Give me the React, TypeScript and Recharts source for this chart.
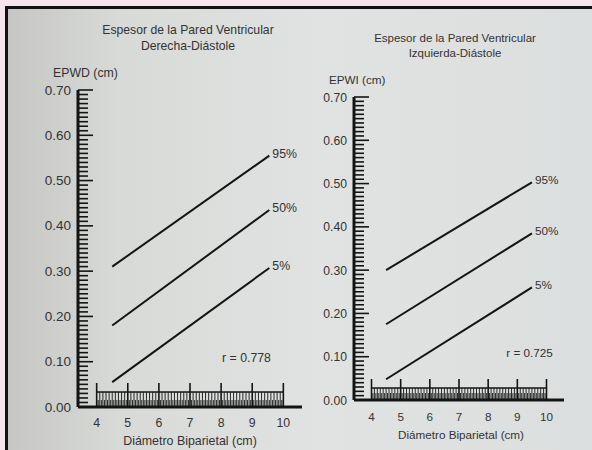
import React from 'react';
import { LineChart, Line, XAxis, YAxis, ReferenceLine, ReferenceDot, LabelList } from 'recharts';

// ---- data ----
const leftX = [4.5, 9.55];
const left95 = [0.31, 0.555];
const left50 = [0.18, 0.435];
const left5 = [0.055, 0.307];

const rightX = [4.5, 9.5];
const right95 = [0.3, 0.503];
const right50 = [0.175, 0.385];
const right5 = [0.048, 0.26];

const seriesKeys = ['p95', 'p50', 'p5'];
const seriesNames = ['95%', '50%', '5%'];

const leftTitle = ['Espesor de la Pared Ventricular', 'Derecha-Diástole'];
const rightTitle = ['Espesor de la Pared Ventricular', 'Izquierda-Diástole'];
const leftYLabel = 'EPWD (cm)';
const rightYLabel = 'EPWI (cm)';
const xLabel = 'Diámetro Biparietal (cm)';
const leftR = 'r = 0.778';
const rightR = 'r = 0.725';

const xMin = 4;
const xMax = 10;
const yMax = 0.7;

// ruler ticks (every 0.05 on x, every 0.01 on y)
const xRulerTicks: number[] = [];
for (let i = xMin * 20; i <= xMax * 20; i++) xRulerTicks.push(i / 20);
const yRulerTicks: number[] = [];
for (let i = 0; i <= Math.round(yMax * 100); i++) yRulerTicks.push(i / 100);

const buildRows = (xs: number[], a: number[], b: number[], c: number[]) =>
  xs.map((x, i) => ({ x, p95: a[i], p50: b[i], p5: c[i] }));

const leftRows = buildRows(leftX, left95, left50, left5);
const rightRows = buildRows(rightX, right95, right50, right5);

const INK = '#141414';
const TEXT = '#333';
const FONT = '"Liberation Sans", Arial, sans-serif';

const XRulerTick = (props: any) => {
  const { x, y, payload, majorLen, minorLen, fs, labelDy } = props;
  const v = payload.value;
  const twentieth = Math.round(v * 20);
  const isMajor = twentieth % 20 === 0;
  const isTenth = twentieth % 2 === 0;
  const len = isMajor ? majorLen : isTenth ? minorLen : 7;
  return (
    <g>
      <line x1={x} x2={x} y1={y} y2={y - len} stroke={INK} strokeWidth={isMajor ? 1.6 : 0.9} />
      {isMajor && (
        <text x={x} y={y + labelDy} textAnchor="middle" fontSize={fs} fill={TEXT} fontFamily={FONT}>
          {Math.round(v)}
        </text>
      )}
    </g>
  );
};

const YRulerTick = (props: any) => {
  const { x, y, payload, fs } = props;
  const v = payload.value;
  const hund = Math.round(v * 100);
  const isMajor = hund % 10 === 0;
  return (
    <g>
      <line x1={x} x2={x + (isMajor ? 15 : 10)} y1={y} y2={y} stroke={INK} strokeWidth={1.6} />
      {isMajor && (
        <text x={x - 7} y={y} dy={4.5} textAnchor="end" fontSize={fs} fill={TEXT} fontFamily={FONT}>
          {v.toFixed(2)}
        </text>
      )}
    </g>
  );
};

const Panel = (props: any) => {
  const { rows, width, top, yAxisWidth, xAxisHeight, majorLen, minorLen, barY, fs, yfs, labelDy, rText, rX, rY } = props;
  const last = rows.length - 1;
  return (
    <LineChart width={width} height={450} data={rows} margin={{ top, right: 0, bottom: 0, left: 0 }}>
      <XAxis
        dataKey="x"
        type="number"
        domain={[3.4, 10.6]}
        ticks={xRulerTicks}
        interval={0}
        tickSize={0}
        tickMargin={0}
        tickLine={false}
        axisLine={{ stroke: INK, strokeWidth: 3 }}
        height={xAxisHeight}
        allowDataOverflow
        tick={(p: any) => (
          <XRulerTick {...p} majorLen={majorLen} minorLen={minorLen} fs={fs} labelDy={labelDy} />
        )}
      />
      <YAxis
        type="number"
        domain={[0, yMax]}
        ticks={yRulerTicks}
        interval={0}
        tickSize={0}
        tickMargin={0}
        tickLine={false}
        axisLine={{ stroke: INK, strokeWidth: 3 }}
        width={yAxisWidth}
        tick={(p: any) => <YRulerTick {...p} fs={yfs} />}
      />
      <ReferenceLine
        segment={[
          { x: xMin, y: barY },
          { x: xMax, y: barY },
        ]}
        stroke={INK}
        strokeWidth={1.5}
      />
      {seriesKeys.map((k, si) => (
        <Line
          key={k}
          type="linear"
          dataKey={k}
          stroke={INK}
          strokeWidth={2}
          dot={false}
          isAnimationActive={false}
        >
          <LabelList
            dataKey={k}
            content={(lp: any) =>
              lp.index === last ? (
                <text
                  x={lp.x + 3}
                  y={lp.y - 2}
                  dy={4}
                  fontSize={fs}
                  fill={TEXT}
                  fontFamily={FONT}
                >
                  {seriesNames[si]}
                </text>
              ) : null
            }
          />
        </Line>
      ))}
      <ReferenceDot
        x={rX}
        y={rY}
        r={0}
        fill="none"
        stroke="none"
        label={{ value: rText, position: 'right', offset: 0, fontSize: fs, fill: TEXT, fontFamily: FONT }}
      />
    </LineChart>
  );
};

const textStyle = (left: number, top: number, width: number, fs: number, lh: number): React.CSSProperties => ({
  position: 'absolute',
  left,
  top,
  width,
  textAlign: 'center',
  fontSize: fs,
  lineHeight: `${lh}px`,
  color: TEXT,
  fontFamily: FONT,
  whiteSpace: 'nowrap',
});

export default function App() {
  return (
    <div
      style={{
        position: 'absolute',
        left: 0,
        top: 0,
        width: 592,
        height: 450,
        overflow: 'hidden',
        background: '#f6e4ec',
        fontFamily: FONT,
      }}
    >
      <div
        style={{
          position: 'absolute',
          left: 5,
          top: 6,
          width: 620,
          height: 470,
          border: '3px solid #111',
          background: 'linear-gradient(90deg, #c6c7c4 0%, #d8dad8 18%, #e1e3e2 50%, #dbdede 100%)',
        }}
      />
      <div style={{ position: 'absolute', left: 0, top: 0 }}>
        <Panel
          rows={leftRows}
          width={302}
          top={90}
          yAxisWidth={78}
          xAxisHeight={43}
          majorLen={24}
          minorLen={15}
          barY={0.033}
          fs={12.3}
          yfs={13.5}
          labelDy={20}
          rText={leftR}
          rX={8.03}
          rY={0.108}
        />
      </div>
      <div style={{ position: 'absolute', left: 300, top: 0 }}>
        <Panel
          rows={rightRows}
          width={264}
          top={97}
          yAxisWidth={54}
          xAxisHeight={50}
          majorLen={21}
          minorLen={12}
          barY={0.028}
          fs={11.7}
          yfs={12.2}
          labelDy={21}
          rText={rightR}
          rX={8.62}
          rY={0.1085}
        />
      </div>
      <div style={textStyle(88, 22, 200, 12.2, 16)}>
        {leftTitle[0]}
        <br />
        {leftTitle[1]}
      </div>
      <div style={textStyle(355, 31, 200, 11.5, 15)}>
        {rightTitle[0]}
        <br />
        {rightTitle[1]}
      </div>
      <div style={{ ...textStyle(53, 65, 80, 12.3, 16), textAlign: 'left' }}>{leftYLabel}</div>
      <div style={{ ...textStyle(329, 72, 80, 11.7, 16), textAlign: 'left' }}>{rightYLabel}</div>
      <div style={textStyle(90, 433, 200, 12.4, 16)}>{xLabel}</div>
      <div style={textStyle(361, 427, 200, 11.7, 16)}>{xLabel}</div>
    </div>
  );
}
